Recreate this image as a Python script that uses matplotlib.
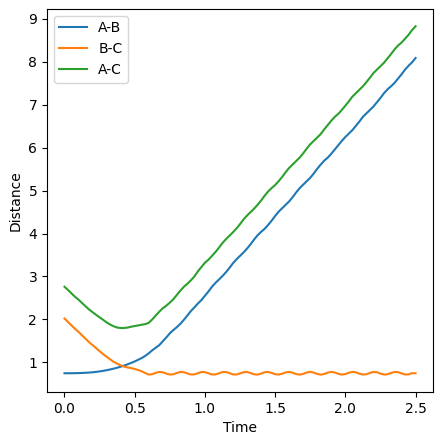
import numpy as np
import matplotlib
matplotlib.use("Agg")
import matplotlib.pyplot as plt

# time grid, 0 to 2.5 in steps of 0.025
time = np.linspace(0, 2.5, 101)

dist_ab = [
    0.745, 0.745, 0.746, 0.747, 0.749, 0.752, 0.756, 0.761, 0.768, 0.777,
    0.788, 0.801, 0.816, 0.833, 0.852, 0.874, 0.898, 0.925, 0.955, 0.986,
    1.020, 1.06, 1.10, 1.15, 1.21, 1.28, 1.34, 1.40, 1.49, 1.58,
    1.675, 1.75, 1.82, 1.895, 1.99, 2.09, 2.195, 2.28, 2.37, 2.45,
    2.55, 2.65, 2.76, 2.85, 2.93, 3.01, 3.10, 3.20, 3.31, 3.40,
    3.48, 3.56, 3.65, 3.75, 3.86, 3.96, 4.04, 4.11, 4.20, 4.30,
    4.41, 4.51, 4.59, 4.67, 4.75, 4.85, 4.96, 5.06, 5.14, 5.22,
    5.30, 5.40, 5.51, 5.61, 5.70, 5.77, 5.86, 5.96, 6.06, 6.16,
    6.25, 6.33, 6.41, 6.51, 6.61, 6.72, 6.80, 6.88, 6.96, 7.06,
    7.16, 7.27, 7.36, 7.43, 7.51, 7.61, 7.71, 7.82, 7.91, 7.99,
    8.09,
]

dist_bc = [
    2.02, 1.94, 1.86, 1.78, 1.71, 1.63, 1.55, 1.47, 1.40, 1.33,
    1.26, 1.19, 1.13, 1.07, 1.01, 0.97, 0.93, 0.90, 0.88, 0.865,
    0.845, 0.82, 0.79, 0.75, 0.714, 0.723, 0.754, 0.776, 0.768, 0.738,
    0.715, 0.721, 0.751, 0.775, 0.770, 0.741, 0.716, 0.719, 0.747, 0.774,
    0.772, 0.744, 0.717, 0.717, 0.744, 0.772, 0.774, 0.748, 0.719, 0.716,
    0.741, 0.770, 0.775, 0.751, 0.721, 0.714, 0.737, 0.768, 0.776, 0.754,
    0.723, 0.714, 0.734, 0.765, 0.777, 0.757, 0.726, 0.713, 0.731, 0.763,
    0.777, 0.760, 0.729, 0.713, 0.728, 0.760, 0.777, 0.763, 0.732, 0.713,
    0.725, 0.757, 0.777, 0.766, 0.735, 0.714, 0.723, 0.753, 0.776, 0.768,
    0.738, 0.715, 0.721, 0.750, 0.775, 0.771, 0.742, 0.716, 0.719, 0.747,
    0.745,
]

dist_ac = [
    2.76, 2.685, 2.606, 2.527, 2.459, 2.382, 2.306, 2.231, 2.168, 2.107,
    2.048, 1.99, 1.93, 1.88, 1.84, 1.81, 1.80, 1.80, 1.81, 1.83,
    1.845, 1.86, 1.875, 1.89, 1.92, 2.00, 2.09, 2.18, 2.26, 2.32,
    2.39, 2.47, 2.57, 2.67, 2.76, 2.83, 2.91, 3.00, 3.12, 3.22,
    3.32, 3.39, 3.48, 3.57, 3.67, 3.78, 3.87, 3.95, 4.03, 4.12,
    4.22, 4.33, 4.42, 4.50, 4.58, 4.67, 4.77, 4.88, 4.98, 5.06,
    5.13, 5.22, 5.32, 5.43, 5.53, 5.61, 5.69, 5.77, 5.87, 5.98,
    6.08, 6.16, 6.24, 6.32, 6.43, 6.53, 6.63, 6.72, 6.79, 6.88,
    6.98, 7.08, 7.19, 7.27, 7.35, 7.43, 7.53, 7.63, 7.74, 7.82,
    7.90, 7.98, 8.08, 8.18, 8.29, 8.38, 8.45, 8.54, 8.63, 8.74,
    8.83,
]

fig = plt.figure(figsize=(4.47, 4.41), dpi=100)
ax = fig.add_axes([0.105, 0.111, 0.864, 0.869])

ax.plot(time, dist_ab, label="A-B")
ax.plot(time, dist_bc, label="B-C")
ax.plot(time, dist_ac, label="A-C")

ax.set_xlabel("Time")
ax.set_ylabel("Distance")
ax.legend(loc="upper left")

fig.savefig("out.png", dpi=100)
